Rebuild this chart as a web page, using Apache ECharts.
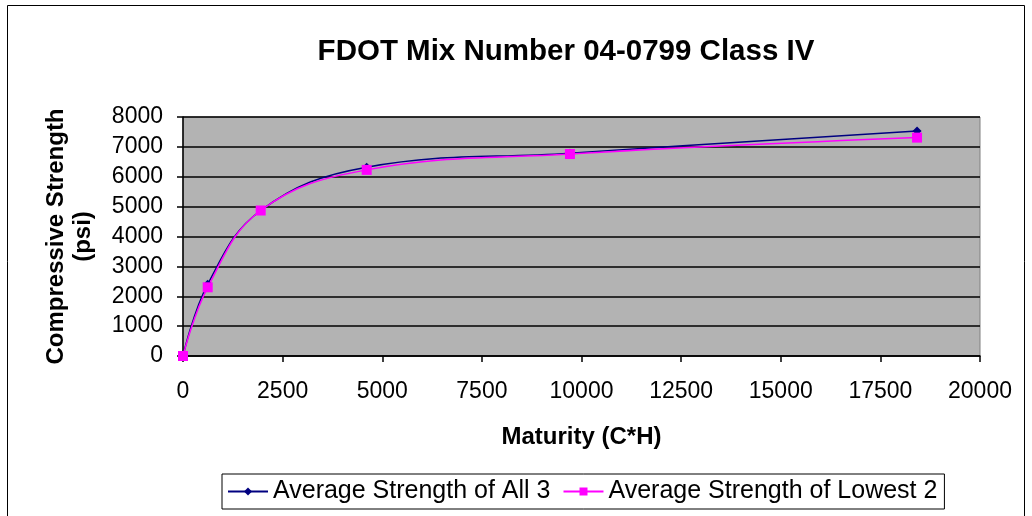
<!DOCTYPE html>
<html>
<head>
<meta charset="utf-8">
<script src="https://cdn.jsdelivr.net/npm/echarts@6/dist/echarts.min.js"></script>
<style>
  html, body { margin: 0; padding: 0; background: #fff; }
  #chart { width: 1032px; height: 516px; }
</style>
</head>
<body>
<div id="chart"></div>
<script>
// Maturity (degree-hours) at each test age
const maturity = [0, 620, 1950, 4610, 9710, 18420];
// Compressive strength (psi)
const strengthAll3 = [0, 2400, 4870, 6320, 6790, 7530];
const strengthLowest2 = [0, 2300, 4870, 6230, 6760, 7310];
// Axis ticks
const xTicks = [0, 2500, 5000, 7500, 10000, 12500, 15000, 17500, 20000];
const yTicks = [0, 1000, 2000, 3000, 4000, 5000, 6000, 7000, 8000];

const FONT = '"Liberation Sans", Arial, sans-serif';
const pairs = (xs, ys) => xs.map((x, i) => [x, ys[i]]);
const plain = v => String(v);

const chart = echarts.init(document.getElementById('chart'));
chart.setOption({
  animation: false,
  backgroundColor: '#ffffff',
  textStyle: { fontFamily: FONT, color: '#000' },
  graphic: [{
    type: 'rect',
    shape: { x: 7.5, y: 5.5, width: 1017, height: 520 },
    style: { fill: 'none', stroke: '#000', lineWidth: 1 },
    silent: true
  }],
  title: {
    text: 'FDOT Mix Number 04-0799 Class IV',
    left: 561, top: 32, textAlign: 'center',
    textStyle: { fontFamily: FONT, fontSize: 29.5, fontWeight: 'bold', color: '#000' }
  },
  grid: {
    left: 183, top: 117, right: 52, bottom: 160,
    show: true, backgroundColor: '#b3b3b3', borderColor: '#808080', borderWidth: 1
  },
  legend: {
    left: 222, top: 474,
    padding: [5, 7, 5, 5],
    itemGap: 12, itemWidth: 40, itemHeight: 10,
    backgroundColor: '#fff',
    borderColor: '#000', borderWidth: 1, borderRadius: 0,
    textStyle: { fontFamily: FONT, fontSize: 25, color: '#000' },
    data: ['Average Strength of All 3', 'Average Strength of Lowest 2']
  },
  xAxis: {
    type: 'value',
    min: xTicks[0], max: xTicks[xTicks.length - 1], interval: 2500,
    name: 'Maturity (C*H)', nameLocation: 'middle', nameGap: 69,
    nameTextStyle: { fontFamily: FONT, fontSize: 24, fontWeight: 'bold', color: '#000' },
    axisLine: { onZero: false, lineStyle: { color: '#000', width: 1.5 } },
    axisTick: { show: true, inside: false, length: 6, lineStyle: { color: '#000', width: 1.5 } },
    axisLabel: { fontFamily: FONT, fontSize: 23, color: '#000', margin: 24, formatter: plain },
    splitLine: { show: false }
  },
  yAxis: {
    type: 'value',
    min: yTicks[0], max: yTicks[yTicks.length - 1], interval: 1000,
    name: 'Compressive Strength\n(psi)', nameLocation: 'middle', nameGap: 86, nameRotate: 90,
    nameTextStyle: { fontFamily: FONT, fontSize: 24, fontWeight: 'bold', color: '#000', lineHeight: 27 },
    axisLine: { show: true, lineStyle: { color: '#000', width: 1.5 } },
    axisTick: { show: true, inside: false, length: 6, lineStyle: { color: '#000', width: 1.5 } },
    axisLabel: { fontFamily: FONT, fontSize: 23, color: '#000', margin: 20, formatter: plain },
    splitLine: { show: true, lineStyle: { color: '#000', width: 1.5 } }
  },
  series: [
    {
      name: 'Average Strength of All 3',
      type: 'line',
      smooth: 0.4,
      data: pairs(maturity, strengthAll3),
      symbol: 'diamond', symbolSize: 9,
      itemStyle: { color: '#000080' },
      lineStyle: { color: '#000080', width: 1.5 }
    },
    {
      name: 'Average Strength of Lowest 2',
      type: 'line',
      smooth: 0.4,
      data: pairs(maturity, strengthLowest2),
      symbol: 'rect', symbolSize: 10,
      itemStyle: { color: '#ff00ff' },
      lineStyle: { color: '#ff00ff', width: 1.5 }
    }
  ]
});
</script>
</body>
</html>
